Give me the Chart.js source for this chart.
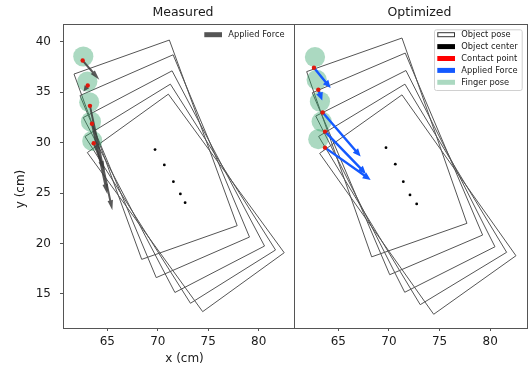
<!DOCTYPE html>
<html>
<head>
<meta charset="utf-8">
<script src="https://cdn.jsdelivr.net/npm/chart.js@4.4.0/dist/chart.umd.min.js"></script>
<style>
  html, body { margin: 0; padding: 0; background: #fff; }
  #wrap { position: relative; width: 531px; height: 370px; }
  canvas { position: absolute; top: 0; }
  #cMeas { left: 0; }
  #cOpt { left: 288px; }
</style>
</head>
<body>
<div id="wrap">
  <canvas id="cMeas" width="300" height="370"></canvas>
  <canvas id="cOpt" width="243" height="370"></canvas>
</div>
<script>
// values in cm
const xTicks = [65, 70, 75, 80];
const yTicks = [15, 20, 25, 30, 35, 40];
const fingerRadius = 1.0;

// object outline corners for each step: left, top, right, bottom
const measPoseX = [
  [61.70, 71.15, 77.87, 68.41],
  [62.29, 71.52, 79.09, 69.85],
  [62.62, 71.42, 80.58, 71.70],
  [62.79, 71.25, 81.67, 73.24],
  [63.02, 71.05, 82.53, 74.45]
];
const measPoseY = [
  [36.79, 40.16, 21.77, 18.43],
  [34.66, 38.70, 20.64, 16.62],
  [32.48, 37.11, 19.75, 15.15],
  [30.60, 35.79, 19.36, 14.08],
  [29.01, 34.80, 19.09, 13.25]
];
const measCenterX = [69.73, 70.65, 71.55, 72.24, 72.71];
const measCenterY = [29.31, 27.79, 26.13, 24.91, 24.05];
const measFingerX = [62.62, 63.02, 63.21, 63.38, 63.51];
const measFingerY = [38.53, 36.05, 34.00, 32.07, 30.17];
const measContactX = [62.56, 63.06, 63.28, 63.48, 63.65];
const measContactY = [38.13, 35.65, 33.64, 31.86, 29.94];
const measForceEndX = [64.21, 62.65, 65.50, 65.00, 64.75];
const measForceEndY = [36.22, 35.05, 23.30, 24.90, 27.20];

const optPoseX = [
  [61.88, 71.29, 77.70, 68.30],
  [62.44, 71.61, 79.25, 70.08],
  [62.78, 71.68, 80.47, 71.56],
  [63.06, 71.58, 81.62, 73.09],
  [63.16, 71.29, 82.54, 74.42]
];
const optPoseY = [
  [37.03, 40.36, 22.00, 18.68],
  [34.94, 38.87, 20.84, 16.91],
  [32.63, 37.14, 19.68, 15.17],
  [30.61, 35.79, 19.13, 13.94],
  [28.93, 34.73, 18.79, 12.99]
];
const optCenterX = [69.71, 70.63, 71.42, 72.08, 72.74];
const optCenterY = [29.50, 27.86, 26.13, 24.81, 23.92];
const optFingerX = [62.70, 62.87, 63.19, 63.36, 63.03];
const optFingerY = [38.47, 36.22, 34.07, 32.08, 30.34];
const optContactX = [62.60, 63.03, 63.46, 63.69, 63.69];
const optContactY = [37.41, 35.23, 32.98, 31.09, 29.50];
const optForceEndX = [64.25, 63.42, 67.21, 67.73, 68.20];
const optForceEndY = [35.40, 34.17, 28.61, 26.90, 26.30];

const FONT = "'DejaVu Sans', sans-serif";
const TEXT = "#1a1a1a";
const EDGE = "#555";
const FINGER = "rgba(46,160,100,0.4)";
const CONTACT = "#e0190d";
const BLUE = "#1459ff";

const zip = (xs, ys) => xs.map((x, i) => ({ x, y: ys[i] }));

function drawArrow(ctx, x0, y0, x1, y1, st) {
  const dx = x1 - x0, dy = y1 - y0, len = Math.hypot(dx, dy);
  if (len < 0.5) return;
  const ux = dx / len, uy = dy / len, nx = -uy, ny = ux;
  const hl = Math.min(st.headLen, len * 0.8);
  const bx = x1 - ux * hl, by = y1 - uy * hl;
  ctx.beginPath();
  ctx.moveTo(x0 + nx * st.w / 2, y0 + ny * st.w / 2);
  ctx.lineTo(bx + nx * st.w / 2, by + ny * st.w / 2);
  ctx.lineTo(bx + nx * st.headW / 2, by + ny * st.headW / 2);
  ctx.lineTo(x1, y1);
  ctx.lineTo(bx - nx * st.headW / 2, by - ny * st.headW / 2);
  ctx.lineTo(bx - nx * st.w / 2, by - ny * st.w / 2);
  ctx.lineTo(x0 - nx * st.w / 2, y0 - ny * st.w / 2);
  ctx.closePath();
  ctx.fill();
}

// force arrows go on top of the finger circles
const arrowPlugin = {
  id: "arrows",
  afterDatasetDraw(chart, args) {
    if (chart.data.datasets[args.index].label !== "Finger pose") return;
    const p = chart.options.plugins.arrows;
    const sx = chart.scales.x, sy = chart.scales.y, ctx = chart.ctx;
    ctx.save();
    ctx.fillStyle = p.color;
    p.fromX.forEach((x, i) => {
      drawArrow(ctx,
        sx.getPixelForValue(x), sy.getPixelForValue(p.fromY[i]),
        sx.getPixelForValue(p.toX[i]), sy.getPixelForValue(p.toY[i]), p);
    });
    ctx.restore();
  }
};

// axes frame, titles, axis labels and the legend box
const decoPlugin = {
  id: "deco",
  afterDraw(chart) {
    const o = chart.options.plugins.deco;
    const a = chart.chartArea, ctx = chart.ctx;
    ctx.save();
    ctx.strokeStyle = EDGE;
    ctx.lineWidth = 1;
    ctx.strokeRect(a.left + 0.5, a.top + 0.5, a.right - a.left, a.bottom - a.top);

    ctx.fillStyle = TEXT;
    ctx.textAlign = "center";
    ctx.textBaseline = "middle";
    ctx.font = `12.5px ${FONT}`;
    ctx.fillText(o.title, (a.left + a.right) / 2 + o.titleShift, 12.5);
    ctx.font = `12px ${FONT}`;
    if (o.xLabel) ctx.fillText(o.xLabel, (a.left + a.right) / 2 + 6, 359);
    if (o.yLabel) {
      ctx.translate(21, 189);
      ctx.rotate(-Math.PI / 2);
      ctx.fillText(o.yLabel, 0, 0);
      ctx.setTransform(1, 0, 0, 1, 0, 0);
    }

    const items = o.legend;
    const rowH = 11.9, boxW = 87.7;
    const x0 = a.right - 5.3 - boxW, y0 = a.top + 5.3;
    if (o.legendFrame) {
      const h = items.length * rowH + 1.2;
      ctx.beginPath();
      ctx.roundRect(x0 + 0.5, y0 + 0.5, boxW, h, 2);
      ctx.fillStyle = "rgba(255,255,255,0.85)";
      ctx.fill();
      ctx.strokeStyle = "#d0d0d0";
      ctx.stroke();
    }
    ctx.font = `8.3px ${FONT}`;
    ctx.textAlign = "left";
    items.forEach((it, i) => {
      const cy = y0 + 5.4 + i * rowH;
      ctx.fillStyle = it.fill;
      ctx.fillRect(x0 + 3.3, cy - 2.5, 17.7, 5);
      if (it.stroke) {
        ctx.strokeStyle = it.stroke;
        ctx.strokeRect(x0 + 3.8, cy - 2, 16.7, 4);
      }
      ctx.fillStyle = TEXT;
      ctx.fillText(it.text, x0 + 27.3, cy + 0.5);
    });
    ctx.restore();
  }
};

function buildPanel(id, d) {
  const datasets = d.poseX.map((xs, i) => {
    const pts = zip(xs, d.poseY[i]);
    pts.push(pts[0]);
    return {
      label: "Object pose", data: pts, showLine: true, fill: false,
      borderColor: EDGE, borderWidth: 1, pointRadius: 0, order: 5
    };
  });
  datasets.push({
    label: "Finger pose", data: zip(d.fingerX, d.fingerY), order: 4,
    pointRadius: (c) => {
      const s = c.chart.scales.x;
      return Math.abs(s.getPixelForValue(s.min + fingerRadius) - s.getPixelForValue(s.min));
    },
    pointBackgroundColor: FINGER, pointBorderWidth: 0
  });
  datasets.push({
    label: "Object center", data: zip(d.centerX, d.centerY), order: 2,
    pointRadius: 1.4, pointBackgroundColor: "#000", pointBorderWidth: 0
  });
  datasets.push({
    label: "Contact point", data: zip(d.contactX, d.contactY), order: 1,
    pointRadius: 2.2, pointBackgroundColor: CONTACT, pointBorderWidth: 0
  });

  const tickFont = { family: FONT, size: 12 };
  return new Chart(document.getElementById(id), {
    type: "scatter",
    data: { datasets },
    plugins: [arrowPlugin, decoPlugin],
    options: {
      responsive: false,
      animation: false,
      devicePixelRatio: 1,
      events: [],
      layout: { padding: d.padding },
      scales: {
        x: {
          type: "linear", min: d.xMin, max: d.xMax,
          afterBuildTicks: (s) => { s.ticks = xTicks.map(v => ({ value: v })); },
          afterFit: (s) => { s.height = 42; },
          ticks: { font: tickFont, color: TEXT, padding: 4 },
          grid: { drawOnChartArea: false, tickLength: 3, color: EDGE },
          border: { display: false }
        },
        y: {
          type: "linear", min: 11.63, max: 41.75, display: d.showY,
          afterBuildTicks: (s) => { s.ticks = yTicks.map(v => ({ value: v })); },
          afterFit: (s) => { s.width = d.showY ? 63 : 0; },
          ticks: { font: tickFont, color: TEXT, padding: 9 },
          grid: { drawOnChartArea: false, tickLength: 3, color: EDGE },
          border: { display: false }
        }
      },
      plugins: {
        legend: { display: false },
        tooltip: { enabled: false },
        arrows: {
          fromX: d.contactX, fromY: d.contactY, toX: d.forceX, toY: d.forceY,
          color: d.arrowColor, w: d.arrowW, headW: d.headW, headLen: d.headLen
        },
        deco: {
          title: d.title, titleShift: d.titleShift, xLabel: d.xLabel, yLabel: d.yLabel,
          legend: d.legend, legendFrame: d.legendFrame
        }
      }
    }
  });
}

buildPanel("cMeas", {
  poseX: measPoseX, poseY: measPoseY,
  centerX: measCenterX, centerY: measCenterY,
  fingerX: measFingerX, fingerY: measFingerY,
  contactX: measContactX, contactY: measContactY,
  forceX: measForceEndX, forceY: measForceEndY,
  xMin: 60.61, xMax: 83.5, showY: true,
  padding: { top: 24, right: 6, left: 0, bottom: 0 },
  arrowColor: "rgba(60,60,60,0.85)", arrowW: 2, headW: 5.5, headLen: 10,
  title: "Measured", titleShift: 4.5, xLabel: "x (cm)", yLabel: "y (cm)",
  legendFrame: false,
  legend: [{ text: "Applied Force", fill: "#555" }]
});

buildPanel("cOpt", {
  poseX: optPoseX, poseY: optPoseY,
  centerX: optCenterX, centerY: optCenterY,
  fingerX: optFingerX, fingerY: optFingerY,
  contactX: optContactX, contactY: optContactY,
  forceX: optForceEndX, forceY: optForceEndY,
  xMin: 60.63, xMax: 83.63, showY: false,
  padding: { top: 24, right: 4, left: 6, bottom: 0 },
  arrowColor: BLUE, arrowW: 2.4, headW: 7, headLen: 8,
  title: "Optimized", titleShift: 9, xLabel: "", yLabel: "",
  legendFrame: true,
  legend: [
    { text: "Object pose", fill: "#fff", stroke: "#333" },
    { text: "Object center", fill: "#000" },
    { text: "Contact point", fill: "#ff0000" },
    { text: "Applied Force", fill: BLUE },
    { text: "Finger pose", fill: "rgba(46,160,100,0.4)" }
  ]
});
</script>
</body>
</html>
